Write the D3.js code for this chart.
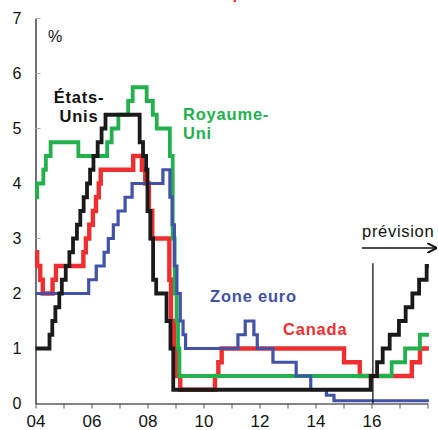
<!DOCTYPE html>
<html>
<head>
<meta charset="utf-8">
<script src="https://cdn.jsdelivr.net/npm/d3@7"></script>
<style>
  body { margin: 0; background: #fff; }
  svg { display: block; font-family: "Liberation Sans", Arial, sans-serif; }
</style>
</head>
<body>
<script>
// Taux directeurs (%), dates en années décimales
const usDates = [2004.0, 2004.5, 2004.6, 2004.71, 2004.85, 2004.94, 2005.08, 2005.21, 2005.34, 2005.48, 2005.6, 2005.72, 2005.84, 2005.95, 2006.07, 2006.22, 2006.36, 2006.5,
  2007.72, 2007.84, 2007.95, 2008.0, 2008.1, 2008.2, 2008.31, 2008.68, 2008.82, 2008.92,
  2015.97, 2016.2, 2016.4, 2016.65, 2016.98, 2017.22, 2017.46, 2017.7, 2017.97, 2018.05];
const usRates = [1.0, 1.25, 1.5, 1.75, 2.0, 2.25, 2.5, 2.75, 3.0, 3.25, 3.5, 3.75, 4.0, 4.25, 4.5, 4.75, 5.0, 5.25,
  4.75, 4.5, 4.25, 3.5, 3.0, 2.25, 2.0, 1.5, 1.0, 0.25,
  0.5, 0.75, 1.0, 1.25, 1.5, 1.75, 2.0, 2.25, 2.5, 2.5];

const ukDates = [2004.0, 2004.06, 2004.28, 2004.37, 2004.54, 2005.53, 2006.56, 2006.72, 2006.96, 2007.31, 2007.47, 2007.97, 2008.19, 2008.33,
  2008.8, 2008.9, 2008.97, 2009.04, 2009.09, 2009.14, 2016.72, 2017.2, 2017.73, 2018.05];
const ukRates = [3.75, 4.0, 4.25, 4.5, 4.75, 4.5, 4.75, 5.0, 5.25, 5.5, 5.75, 5.5, 5.25, 5.0,
  4.5, 3.0, 2.0, 1.5, 1.0, 0.5, 0.75, 1.0, 1.25, 1.25];

const euDates = [2004.0, 2005.9, 2006.17, 2006.45, 2006.6, 2006.78, 2006.95, 2007.2, 2007.45, 2008.55, 2008.8, 2008.88, 2008.96, 2009.05, 2009.17, 2009.27, 2009.36,
  2011.23, 2011.49, 2011.8, 2011.92, 2012.48, 2013.31, 2013.83, 2014.39, 2014.66, 2018.05];
const euRates = [2.0, 2.25, 2.5, 2.75, 3.0, 3.25, 3.5, 3.75, 4.0, 4.25, 3.75, 3.25, 2.5, 2.0, 1.5, 1.25, 1.0,
  1.25, 1.5, 1.25, 1.0, 0.75, 0.5, 0.25, 0.15, 0.05, 0.05];

const caDates = [2004.0, 2004.06, 2004.17, 2004.26, 2004.61, 2004.73, 2005.71, 2005.8, 2005.92, 2006.05, 2006.16, 2006.26, 2006.33,
  2007.49, 2007.8, 2007.92, 2008.05, 2008.17, 2008.3, 2008.78, 2008.84, 2008.94, 2009.05, 2009.17, 2009.28,
  2010.41, 2010.53, 2010.65, 2015.02, 2015.58, 2017.44, 2017.73, 2018.05];
const caRates = [2.75, 2.5, 2.25, 2.0, 2.25, 2.5, 2.75, 3.0, 3.25, 3.5, 3.75, 4.0, 4.25,
  4.5, 4.25, 4.0, 3.5, 3.0, 3.0, 2.25, 1.5, 1.0, 0.5, 0.25, 0.25,
  0.5, 0.75, 1.0, 0.75, 0.5, 0.75, 1.0, 1.0];

const yTicks = [0, 1, 2, 3, 4, 5, 6, 7];
const xYears = d3.range(2004, 2019);
const xLabelYears = [2004, 2006, 2008, 2010, 2012, 2014, 2016];
const forecastStart = 2016.05;

const width = 438, height = 430;
const marginLeft = 35.5, marginTop = 18.5, marginRight = 10.5, marginBottom = 26.5;

const x = d3.scaleLinear()
    .domain([2004, 2018])
    .range([marginLeft, width - marginRight]);

const y = d3.scaleLinear()
    .domain([0, 7])
    .range([height - marginBottom, marginTop]);

const svg = d3.select("body").append("svg")
    .attr("width", width)
    .attr("height", height)
    .attr("viewBox", [0, 0, width, height]);

// titre coupé en haut (seul le jambage du « p » dépasse)
svg.append("text")
    .attr("x", 243)
    .attr("y", -1)
    .attr("text-anchor", "end")
    .attr("fill", "#ee2b2b")
    .attr("font-weight", "bold")
    .attr("font-size", 17)
    .text("Taux directeurs en p");

// axe y
const yAxis = d3.axisLeft(y).tickValues(yTicks).tickSize(0).tickPadding(14).tickFormat(d3.format("d"));
svg.append("g")
    .attr("transform", `translate(${marginLeft},0)`)
    .call(yAxis)
    .call(g => g.select(".domain").attr("stroke", "#111").attr("stroke-width", 1.2))
    .call(g => g.selectAll(".tick text").attr("font-size", 16).attr("fill", "#111"));

svg.append("g")
    .selectAll("line")
    .data(yTicks.slice(1))
    .join("line")
    .attr("x1", marginLeft).attr("x2", marginLeft + 5)
    .attr("y1", d => y(d)).attr("y2", d => y(d))
    .attr("stroke", "#aaa");

// axe x
const xAxis = d3.axisBottom(x).tickValues(xYears).tickSize(5).tickSizeOuter(0)
    .tickFormat(d => xLabelYears.includes(d) ? String(d).slice(2) : "");
svg.append("g")
    .attr("transform", `translate(0,${height - marginBottom})`)
    .call(xAxis)
    .call(g => g.select(".domain").attr("stroke", "#111").attr("stroke-width", 1.2))
    .call(g => g.selectAll(".tick line").attr("stroke", "#555"))
    .call(g => g.selectAll(".tick text").attr("font-size", 17).attr("fill", "#111").attr("dy", "0.9em"));

svg.append("text")
    .attr("x", 48).attr("y", 42)
    .attr("font-size", 16).attr("fill", "#111")
    .text("%");

// séries
const line = d3.line().curve(d3.curveStepAfter).x(d => x(d[0])).y(d => y(d[1]));
const series = [
  { dates: caDates, rates: caRates, color: "#ef2f2f", w: 4.4 },
  { dates: ukDates, rates: ukRates, color: "#22b14c", w: 3.8 },
  { dates: euDates, rates: euRates, color: "#4152a8", w: 3.2 },
  { dates: usDates, rates: usRates, color: "#1a1a1a", w: 3.8 }
];
svg.append("g")
    .selectAll("path")
    .data(series)
    .join("path")
    .attr("fill", "none")
    .attr("stroke", d => d.color)
    .attr("stroke-width", d => d.w)
    .attr("stroke-linejoin", "miter")
    .attr("d", d => line(d3.zip(d.dates, d.rates)));

// prévision
svg.append("line")
    .attr("x1", x(forecastStart)).attr("x2", x(forecastStart))
    .attr("y1", y(2.55)).attr("y2", y(0))
    .attr("stroke", "#111").attr("stroke-width", 1.3);

svg.append("defs").append("marker")
    .attr("id", "arrow")
    .attr("viewBox", "0 0 10 10")
    .attr("refX", 9).attr("refY", 5)
    .attr("markerWidth", 10).attr("markerHeight", 10)
    .attr("markerUnits", "userSpaceOnUse")
    .attr("orient", "auto")
    .append("path")
    .attr("d", "M0,0 L10,5 L0,10")
    .attr("fill", "none").attr("stroke", "#111").attr("stroke-width", 2);

svg.append("line")
    .attr("x1", 362).attr("x2", 436)
    .attr("y1", 248).attr("y2", 248)
    .attr("stroke", "#111").attr("stroke-width", 1.5)
    .attr("marker-end", "url(#arrow)");

svg.append("text")
    .attr("x", 362).attr("y", 237)
    .attr("font-size", 16.5).attr("letter-spacing", 0.7).attr("fill", "#111")
    .text("prévision");

// étiquettes
const labels = [
  { lines: ["États-", "Unis"], x: 79, y: 103, anchor: "middle", color: "#111" },
  { lines: ["Royaume-", "Uni"], x: 183, y: 120, anchor: "start", color: "#22b14c" },
  { lines: ["Zone euro"], x: 210, y: 302, anchor: "start", color: "#4152a8" },
  { lines: ["Canada"], x: 283, y: 335, anchor: "start", color: "#ef2f2f" }
];
labels.forEach(l => {
  const t = svg.append("text")
      .attr("x", l.x).attr("y", l.y)
      .attr("text-anchor", l.anchor)
      .attr("fill", l.color)
      .attr("font-weight", "bold")
      .attr("font-size", 16.5)
      .attr("letter-spacing", 0.8);
  l.lines.forEach((s, i) => {
    t.append("tspan").attr("x", l.x).attr("dy", i ? 19 : 0).text(s);
  });
});
</script>
</body>
</html>
